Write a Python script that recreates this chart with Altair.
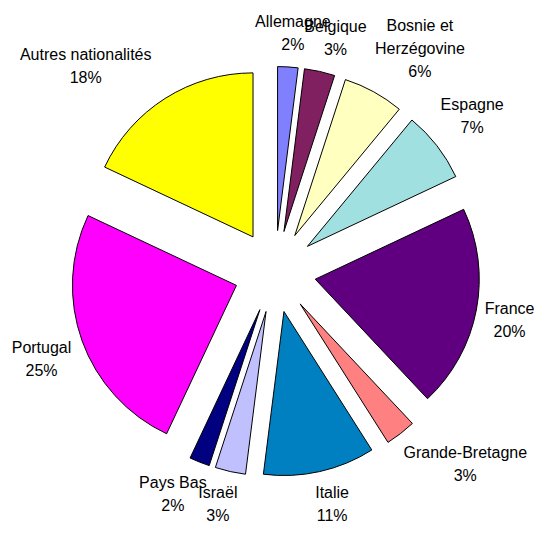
import altair as alt
import pandas as pd

names = ["Allemagne", "Belgique", "Bosnie et\nHerzégovine", "Espagne", "France",
         "Grande-Bretagne", "Italie", "Israël", "Pays Bas", "Portugal", "Autres nationalités"]
values = [2, 3, 6, 7, 20, 3, 11, 3, 2, 25, 18]
colors = ["#8080FF", "#802060", "#FFFFC0", "#A0E0E0", "#600080",
          "#FF8080", "#0080C0", "#C0C0FF", "#000080", "#FF00FF", "#FFFF00"]

df = pd.DataFrame({"name": names, "value": values, "idx": list(range(len(names)))})

CX, CY = 267, 263.5
EXPLODE = 41
R = 164
LR = 215
CHAR_W = 7.8
LINE_H = 23

base = alt.Chart(df).transform_window(
    cum="sum(value)", sort=[alt.SortField("idx")], frame=[None, 0]
).transform_calculate(
    start="datum.cum - datum.value",
    mid="(datum.cum - datum.value / 2) / 100 * 2 * PI",
).transform_calculate(
    s="sin(datum.mid)",
    c="cos(datum.mid)",
).transform_calculate(
    ax=f"{CX} + {EXPLODE} * datum.s",
    ay=f"{CY} - {EXPLODE} * datum.c",
    label="datum.name + '\\n' + datum.value + '%'",
    maxlen="indexof(datum.name, '\\n') >= 0 ? max(length(split(datum.name, '\\n')[0]), length(split(datum.name, '\\n')[1])) : length(datum.name)",
    nlines="indexof(datum.name, '\\n') >= 0 ? 3 : 2",
).transform_calculate(
    lx=f"{CX} + {LR} * datum.s + clamp(2 * datum.s, -1, 1) * datum.maxlen * {CHAR_W} / 2",
    ly=f"{CY} - {LR} * datum.c - clamp(2 * datum.c, -1, 1) * datum.nlines * {LINE_H} / 2 - (datum.nlines - 1) * {LINE_H} / 2",
)

arcs = base.mark_arc(radius=R, stroke="black", strokeWidth=1).encode(
    x=alt.X("ax:Q", scale=None),
    y=alt.Y("ay:Q", scale=None),
    theta=alt.Theta("start:Q", scale=alt.Scale(domain=[0, 100], range=[0, 6.283185307179586])),
    theta2=alt.Theta2("cum:Q"),
    color=alt.Color("name:N", scale=alt.Scale(domain=names, range=colors), legend=None),
)

labels = base.mark_text(
    font="Liberation Sans", fontSize=16, color="black", lineBreak="\n",
    lineHeight=LINE_H, align="center", baseline="middle",
).encode(
    x=alt.X("lx:Q", scale=None),
    y=alt.Y("ly:Q", scale=None),
    text="label:N",
)

chart = alt.layer(arcs, labels).properties(
    width=526, height=518, autosize=alt.AutoSizeParams(type="none"), padding=0
).configure_view(stroke=None)

chart.save("out.html", embed_options={"renderer": "svg", "actions": False})
